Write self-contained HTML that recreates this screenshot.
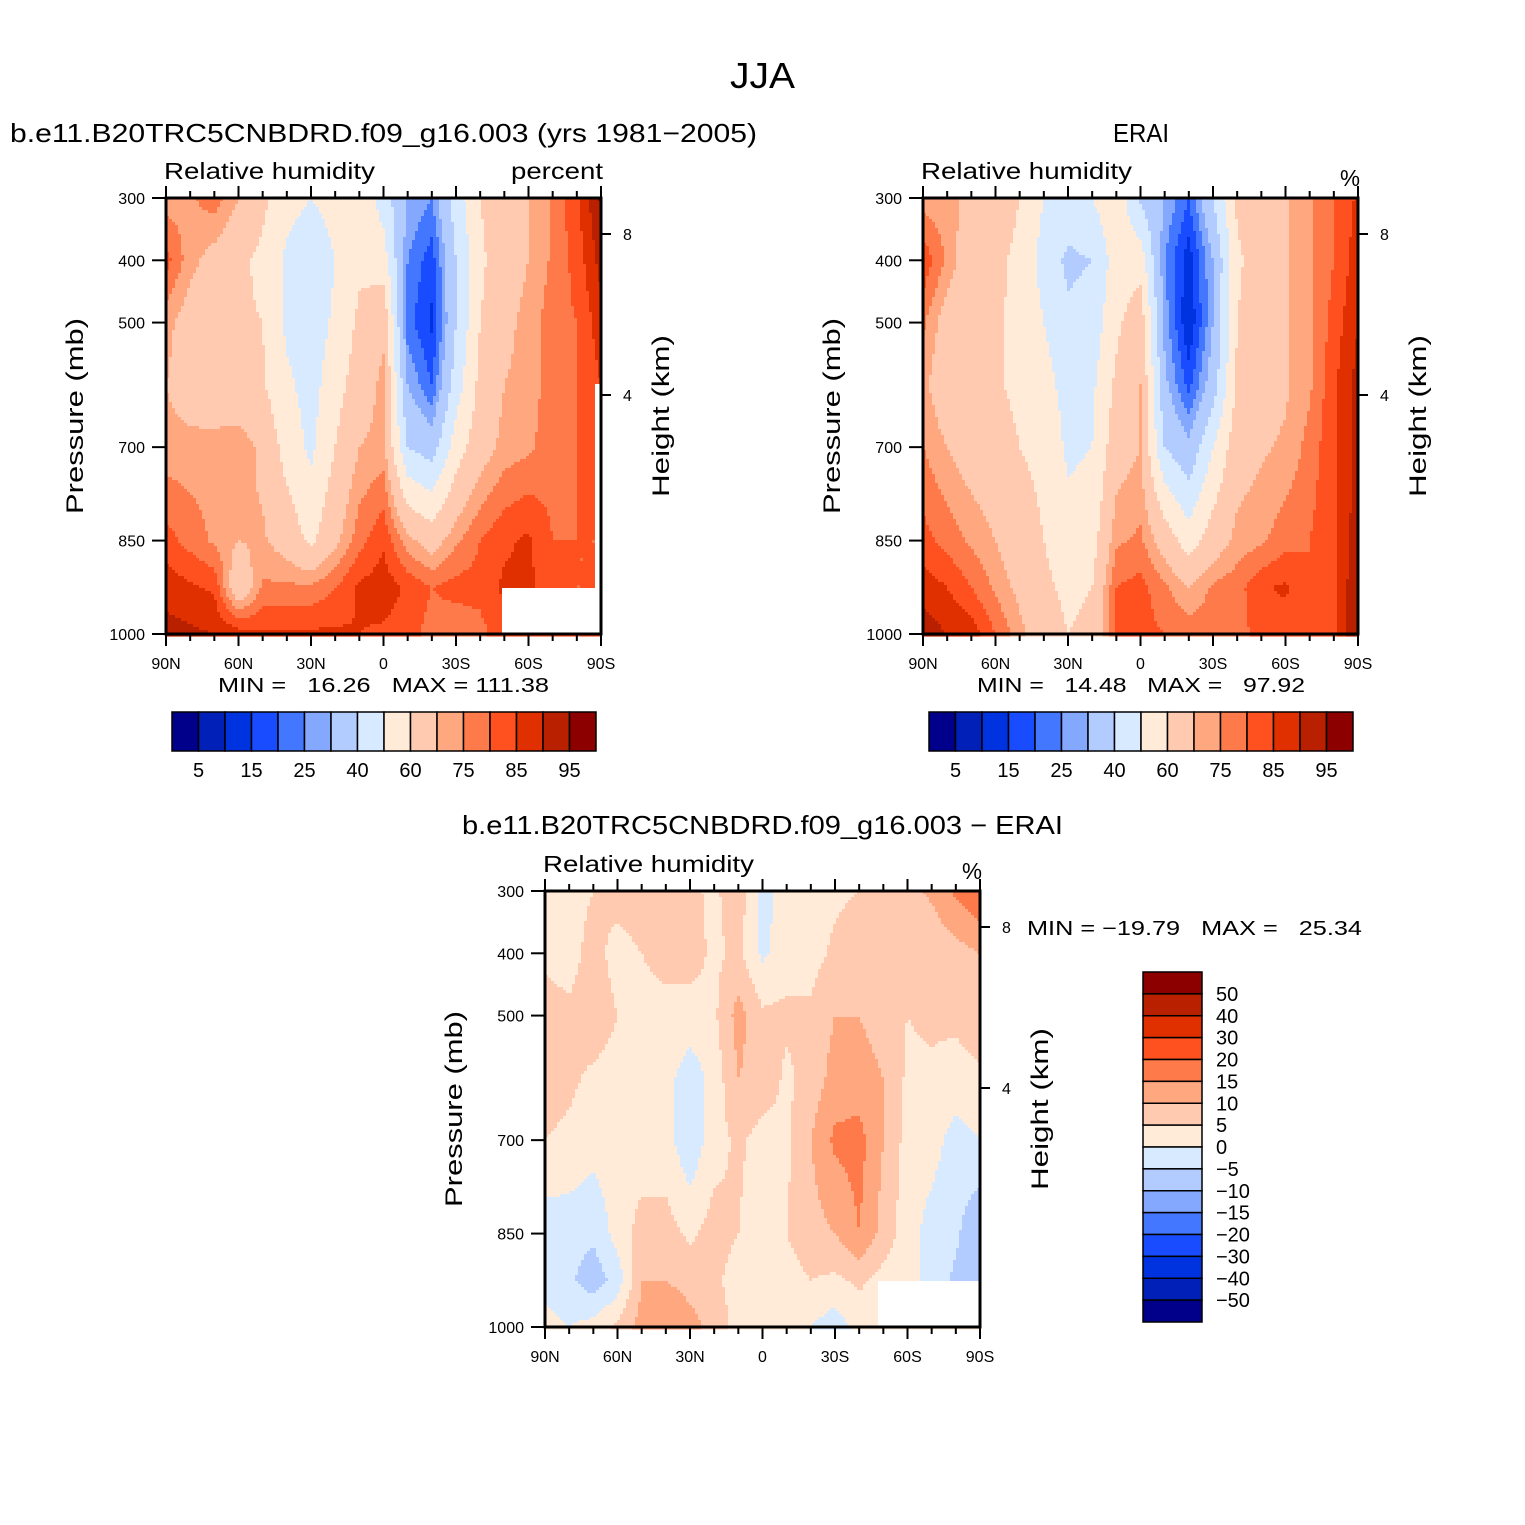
<!DOCTYPE html>
<html><head><meta charset="utf-8"><style>
html,body{margin:0;padding:0;background:#fff}
svg{display:block;font-family:"Liberation Sans",sans-serif}
text{white-space:pre}
</style></head><body>
<svg id="fig" width="1525" height="1525" viewBox="0 0 1525 1525" xmlns="http://www.w3.org/2000/svg">
<text x="730" y="88" font-size="36" textLength="65" lengthAdjust="spacingAndGlyphs">JJA</text>
<text x="10" y="142" font-size="26" textLength="747" lengthAdjust="spacingAndGlyphs">b.e11.B20TRC5CNBDRD.f09_g16.003 (yrs 1981−2005)</text>
<text x="1113" y="142" font-size="26" textLength="56" lengthAdjust="spacingAndGlyphs">ERAI</text>
<text x="462" y="834" font-size="26" textLength="601" lengthAdjust="spacingAndGlyphs">b.e11.B20TRC5CNBDRD.f09_g16.003 − ERAI</text>
<g id="plots"></g>
</svg>
<script>
// ---- data ----
const lats = ["90N","80N","70N","60N","50N","40N","30N","20N","10N","0","10S","20S","30S","40S","50S","60S","70S","80S","90S"];
const plevs = [300,400,500,600,700,850,925,1000];
const rhLevels = [5,10,15,20,25,30,40,50,60,70,75,80,85,90,95];
const rhLabels = ["5","15","25","40","60","75","85","95"];
const diffLevels = [-50,-40,-30,-20,-15,-10,-5,0,5,10,15,20,30,40,50];
const diffLabels = ["50","40","30","20","15","10","5","0","−5","−10","−15","−20","−30","−40","−50"];
const palette = ["#00008a","#0020b8","#0033e0","#1a4cff","#4477ff","#85a8ff","#b3ccff","#d8eaff","#ffebd8","#ffcab0","#ffa880","#ff7a4a","#ff5020","#e03000","#b82000","#8c0000"];
// rows: latitude, columns: pressure levels 300..1000
const modelRH = [
[72,82,72,70,72,82,88,92],
[74,72,66,66,72,78,86,91],
[78,67,63,63,73,74,84,90],
[70,62,61,63,74,70,62,88],
[62,58,60,61,68,71,76,86],
[54,48,48,52,56,66,76,86],
[50,42,44,46,48,58,76,86],
[54,50,52,56,60,68,80,86],
[60,58,62,65,70,78,86,85],
[45,55,68,72,72,84,88,84],
[30,25,22,30,40,72,84,82],
[25,17,14,20,35,66,80,78],
[45,40,40,45,55,74,82,76],
[60,58,60,63,66,80,82,78],
[66,66,68,70,72,84,86,84],
[70,70,72,72,74,86,86,84],
[76,76,78,78,78,80,82,82],
[84,82,80,80,80,80,80,80],
[96,92,88,85,82,80,80,80]];
const eraRH = [
[72,84,76,72,75,82,88,93],
[72,74,66,64,70,78,85,90],
[68,64,61,61,66,74,80,88],
[65,62,61,61,64,70,74,80],
[60,58,58,58,60,64,68,72],
[50,46,50,54,58,60,62,64],
[46,38,42,46,48,54,58,60],
[50,40,44,48,50,56,60,62],
[58,55,58,62,66,74,80,82],
[38,56,66,70,70,76,82,82],
[30,25,28,32,40,66,76,80],
[20,12,10,18,32,55,70,78],
[40,30,30,35,50,65,76,78],
[62,58,60,62,66,72,78,78],
[66,66,67,67,69,74,84,82],
[69,69,69,69,71,78,86,82],
[74,74,74,74,77,80,80,80],
[80,80,82,84,84,84,84,84],
[86,88,90,92,92,93,95,95]];
const diffRH = [
[5,4,7,7,5,-3,-2,2],
[3,3,6,6,4,-3,-4,0],
[5,7,8,4,2,-4,-8,2],
[7,3,5,3,3,2,-3,6],
[8,5,4,3,2,7,10,12],
[7,6,4,2,2,7,10,15],
[6,7,3,-3,-4,4,8,12],
[4,4,4,2,3,7,6,8],
[8,6,12,10,6,5,3,3],
[-2,-1,6,8,3,2,2,3],
[2,3,6,4,4,5,3,2],
[2,3,6,7,10,8,5,0],
[4,6,10,12,16,10,4,-3],
[5,8,10,12,17,15,6,2],
[7,6,8,10,10,8,3,2],
[8,6,5,4,3,2,2,2],
[11,6,6,4,2,-2,-2,2],
[16,8,6,3,-2,-4,-6,2],
[20,10,8,4,0,-10,-10,2]];
// missing-data regions: [lat index from, lat index to, p from, p to]
const modelMissing = [[13.85,18,925,1000],[17.8,18,600,925]];
const eraMissing = [];
const diffMissing = [[13.8,18,925,1000]];

const NS="http://www.w3.org/2000/svg";
const root=document.getElementById('plots');
function mk(tag,attrs,parent){const e=document.createElementNS(NS,tag);for(const k in attrs)e.setAttribute(k,attrs[k]);(parent||root).appendChild(e);return e;}
function colorFor(v,levels){let i=0;while(i<levels.length&&v>=levels[i])i++;return palette[i];}

function drawPlot(ox,oy,data,levels,missing,name,unitLabel,unitLen,minmax,mmx,mmy,mmLen){
  const W=435,H=436;
  const g=mk('g',{});
  
  
  const xs=i=>ox+i*W/(lats.length-1);
  const ys=p=>oy+(p-300)/700*H;
  const step=3;
  const cg=mk('g',{},g);
  
  
  for(let py=0;py<H;py+=step){
    const p=300+(py+step/2)/H*700;
    let k=0;while(k<plevs.length-2&&p>plevs[k+1])k++;
    const tp=(p-plevs[k])/(plevs[k+1]-plevs[k]);
    let runStart=0,runCol=null;
    const flush=(endX)=>{ if(runCol){mk('rect',{x:ox+runStart,y:oy+py,width:endX-runStart+0.6,height:step+0.6,fill:runCol},cg);} };
    for(let px=0;px<W;px+=step){
      const fl=(px+step/2)/W*(lats.length-1);
      let j=Math.min(Math.floor(fl),lats.length-2);const tl=fl-j;
      const a=data[j][k],b=data[j+1][k],c=data[j][k+1],d=data[j+1][k+1];
      const v=a*(1-tl)*(1-tp)+b*tl*(1-tp)+c*(1-tl)*tp+d*tl*tp;
      let col=colorFor(v,levels);
      for(const m of missing){ if(fl>=m[0]&&fl<=m[1]&&p>=m[2]&&p<=m[3]) col='#ffffff'; }
      if(col!==runCol){flush(px);runStart=px;runCol=col;}
    }
    flush(W);
  }
  const fr=mk('rect',{x:ox,y:oy,width:W,height:H,fill:'none',stroke:'#000','stroke-width':3},g);
  
  
  for(let i=0;i<lats.length;i++){
    const x=xs(i),major=i%3===0,len=major?12:7;
    mk('line',{x1:x,y1:oy+H,x2:x,y2:oy+H+len,stroke:'#000','stroke-width':2},g);
    mk('line',{x1:x,y1:oy,x2:x,y2:oy-len,stroke:'#000','stroke-width':2},g);
    if(major){const t=mk('text',{x:x,y:oy+H+35,'font-size':16,'text-anchor':'middle'},g);t.textContent=lats[i];
      
      }
  }
  [300,400,500,700,850,1000].forEach(p=>{
    const y=ys(p);mk('line',{x1:ox-14,y1:y,x2:ox,y2:y,stroke:'#000','stroke-width':2},g);
    const t=mk('text',{x:ox-21,y:y+6,'font-size':16,'text-anchor':'end'},g);t.textContent=p;
    
    
  });
  [[8,36],[4,197]].forEach(h=>{
    const y=oy+h[1];mk('line',{x1:ox+W,y1:y,x2:ox+W+10,y2:y,stroke:'#000','stroke-width':2},g);
    const t=mk('text',{x:ox+W+22,y:y+6,'font-size':16},g);t.textContent=h[0];
    
    
  });
  const cy=oy+H/2;
  const px0=ox-91;
  let t=mk('text',{x:px0-98,y:cy+8,'font-size':24,textLength:196,lengthAdjust:'spacingAndGlyphs',transform:`rotate(-90 ${px0} ${cy})`},g);
  t.textContent='Pressure (mb)';
  
  
  const hx=ox+W+60;
  t=mk('text',{x:hx-81,y:cy+8,'font-size':24,textLength:162,lengthAdjust:'spacingAndGlyphs',transform:`rotate(-90 ${hx} ${cy})`},g);
  t.textContent='Height (km)';
  
  
  t=mk('text',{x:ox-2,y:oy-19,'font-size':23,textLength:211,lengthAdjust:'spacingAndGlyphs'},g);t.textContent='Relative humidity';
  
  
  t=mk('text',{x:ox+W+2-unitLen,y:oy-19+(unitLen<40?7:0),'font-size':23,textLength:unitLen,lengthAdjust:'spacingAndGlyphs'},g);t.textContent=unitLabel;
  
  
  t=mk('text',{x:mmx,y:mmy,'font-size':20,textLength:mmLen,lengthAdjust:'spacingAndGlyphs'},g);t.textContent=minmax;
  
  
}
function hColorbar(x0,y0,name){
  const g=mk('g',{});
  
  
  const bw=424/16;
  for(let i=0;i<16;i++){const r=mk('rect',{x:x0+i*bw,y:y0,width:bw,height:39,fill:palette[i],stroke:'#000','stroke-width':1.5},g);
    
    }
  rhLabels.forEach((l,i)=>{const t=mk('text',{x:x0+(1+2*i)*bw,y:y0+65,'font-size':20,'text-anchor':'middle'},g);t.textContent=l;
    
    });
}
function vColorbar(x0,y0,name){
  const g=mk('g',{});
  
  
  const bh=350/16;
  for(let i=0;i<16;i++){const r=mk('rect',{x:x0,y:y0+i*bh,width:59,height:bh,fill:palette[15-i],stroke:'#000','stroke-width':1.5},g);
    
    }
  diffLabels.forEach((l,i)=>{const t=mk('text',{x:x0+73,y:y0+(i+1)*bh+7,'font-size':20},g);t.textContent=l;
    
    });
}
drawPlot(166,198,modelRH,rhLevels,modelMissing,'model','percent',92,'MIN =   16.26   MAX = 111.38',218,692,331);
drawPlot(923,198,eraRH,rhLevels,eraMissing,'erai','%',20,'MIN =   14.48   MAX =   97.92',977,692,328);
drawPlot(545,891,diffRH,diffLevels,diffMissing,'diff','%',20,'MIN = −19.79   MAX =   25.34',1027,935,335);
hColorbar(172,712,'model-colorbar');
hColorbar(929,712,'erai-colorbar');
vColorbar(1143,972,'diff-colorbar');
</script>
</body></html>
